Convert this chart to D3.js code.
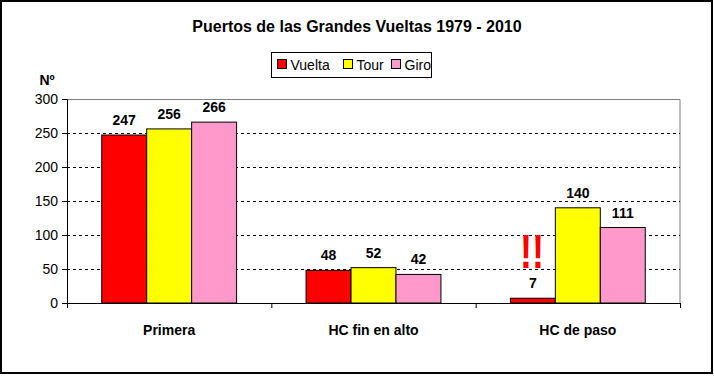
<!DOCTYPE html>
<html>
<head>
<meta charset="utf-8">
<script src="https://cdn.jsdelivr.net/npm/d3@7"></script>
<style>
  body { margin: 0; background: #fff; }
  text { font-family: "Liberation Sans", Arial, sans-serif; }
</style>
</head>
<body>
<div id="graph"></div>
<script>
var svgWidth = 714;
var svgHeight = 376;

var categories = ["Primera", "HC fin en alto", "HC de paso"];
var seriesNames = ["Vuelta", "Tour", "Giro"];
var vuelta = [247, 48, 7];
var tour = [256, 52, 140];
var giro = [266, 42, 111];
var yTicks = [0, 50, 100, 150, 200, 250, 300];
var colors = ["#ff0000", "#ffff00", "#ff99cc"];

var series = [vuelta, tour, giro];

var margin = {left: 67, right: 34, top: 99, bottom: 73};
var plotW = svgWidth - margin.left - margin.right;
var plotH = svgHeight - margin.top - margin.bottom;

var svg = d3.select("#graph")
	.append("svg")
	.attr("width", svgWidth)
	.attr("height", svgHeight);

// outer frame
svg.append("rect")
	.attr("x", 1).attr("y", 1)
	.attr("width", svgWidth - 3).attr("height", svgHeight - 4)
	.attr("fill", "#fff")
	.attr("stroke", "#000")
	.attr("stroke-width", 2);

var g = svg.append("g")
	.attr("transform", "translate(" + margin.left + "," + margin.top + ")");

var x0 = d3.scaleBand()
	.domain(categories)
	.range([0, plotW])
	.paddingInner(0.34)
	.paddingOuter(0.17);

var x1 = d3.scaleBand()
	.domain(seriesNames)
	.range([0, x0.bandwidth()]);

var y = d3.scaleLinear()
	.domain([0, 300])
	.range([plotH, 0]);

// plot area border (top/right gray)
g.append("path")
	.attr("d", "M0,0.5H" + plotW + "V" + plotH)
	.attr("fill", "none")
	.attr("stroke", "#808080")
	.attr("stroke-width", 1);

// gridlines
g.selectAll(".grid")
	.data(yTicks.filter(d => d > 0 && d < 300))
	.enter()
	.append("line")
	.attr("x1", 0).attr("x2", plotW)
	.attr("y1", d => Math.round(y(d)) + 0.5)
	.attr("y2", d => Math.round(y(d)) + 0.5)
	.attr("stroke", "#000")
	.attr("stroke-dasharray", "3,3");

// bars
var rows = categories.map((c, i) => ({cat: c, vals: seriesNames.map((s, j) => ({name: s, value: series[j][i], color: colors[j]}))}));

var groups = g.selectAll(".grp")
	.data(rows)
	.enter()
	.append("g")
	.attr("transform", d => "translate(" + x0(d.cat) + ",0)");

groups.selectAll("rect")
	.data(d => d.vals)
	.enter()
	.append("rect")
	.attr("x", d => x1(d.name))
	.attr("y", d => y(d.value))
	.attr("width", x1.bandwidth())
	.attr("height", d => plotH - y(d.value))
	.attr("fill", d => d.color)
	.attr("stroke", "#000")
	.attr("stroke-width", 1);

groups.selectAll(".lbl")
	.data(d => d.vals)
	.enter()
	.append("text")
	.attr("x", d => x1(d.name) + x1.bandwidth() / 2)
	.attr("y", d => y(d.value) - 10)
	.attr("text-anchor", "middle")
	.attr("font-size", 14)
	.attr("font-weight", "bold")
	.text(d => d.value);

// axes
var yAxis = d3.axisLeft(y).tickValues(yTicks).tickSize(5).tickPadding(4);
var yg = g.append("g").call(yAxis);
yg.select(".domain").attr("stroke", "#000");
yg.selectAll("text").attr("font-size", 14).attr("font-family", "Liberation Sans, Arial, sans-serif").attr("fill", "#000");

var xAxis = d3.axisBottom(d3.scaleLinear().domain([0, 3]).range([0, plotW]))
	.tickValues([0, 1, 2, 3]).tickSize(5).tickFormat("");
var xg = g.append("g").attr("transform", "translate(0," + plotH + ")").call(xAxis);
xg.select(".domain").attr("stroke", "#000");

g.selectAll(".cat")
	.data(categories)
	.enter()
	.append("text")
	.attr("x", d => x0(d) + x0.bandwidth() / 2)
	.attr("y", plotH + 32)
	.attr("text-anchor", "middle")
	.attr("font-size", 14)
	.attr("font-weight", "bold")
	.text(d => d);

// "!!"
svg.append("text")
	.attr("x", margin.left + x0("HC de paso") + x1("Vuelta") + x1.bandwidth() / 2 - 1)
	.attr("y", 268)
	.attr("text-anchor", "middle")
	.attr("font-size", 48)
	.attr("font-weight", "bold")
	.attr("fill", "#ff0000")
	.attr("textLength", 24)
	.attr("lengthAdjust", "spacingAndGlyphs")
	.text("!!");

// title
svg.append("text")
	.attr("x", 357).attr("y", 32)
	.attr("text-anchor", "middle")
	.attr("font-size", 16)
	.attr("font-weight", "bold")
	.text("Puertos de las Grandes Vueltas 1979 - 2010");

// Nº label
svg.append("text")
	.attr("x", 47).attr("y", 85)
	.attr("text-anchor", "middle")
	.attr("font-size", 14)
	.attr("font-weight", "bold")
	.text("Nº");

// legend
var legend = svg.append("g").attr("transform", "translate(271.5,52.5)");
legend.append("rect")
	.attr("width", 160).attr("height", 25)
	.attr("fill", "#fff").attr("stroke", "#000");
var legendX = [6, 72, 120];
seriesNames.forEach((s, i) => {
	legend.append("rect")
		.attr("x", legendX[i]).attr("y", 7)
		.attr("width", 9).attr("height", 9)
		.attr("fill", colors[i]).attr("stroke", "#000");
	legend.append("text")
		.attr("x", legendX[i] + 13).attr("y", 17.5)
		.attr("font-size", 14)
		.text(s);
});
</script>
</body>
</html>
